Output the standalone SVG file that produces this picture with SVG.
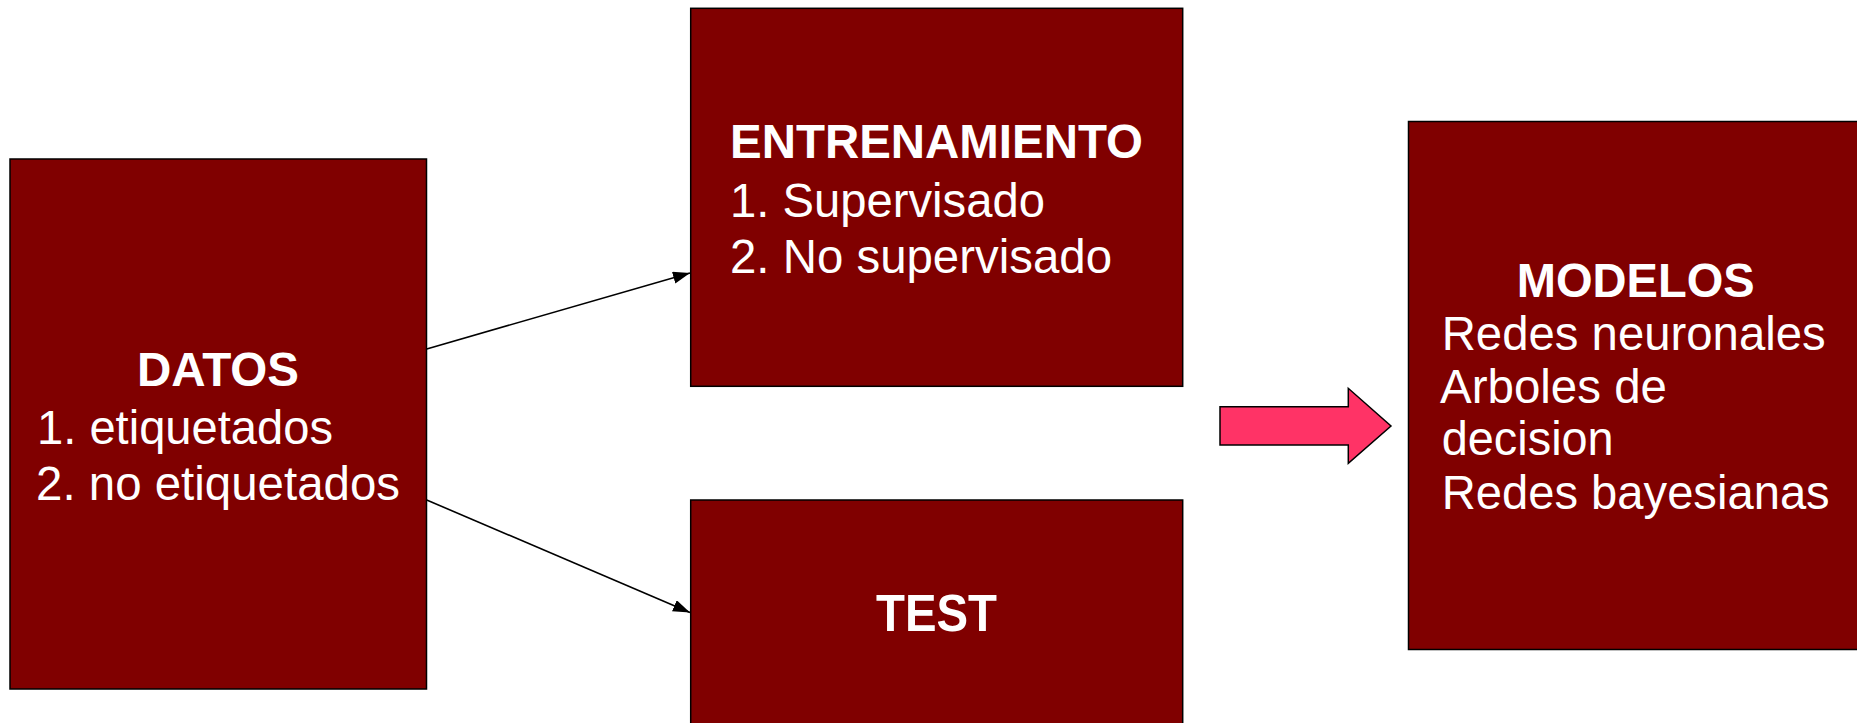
<svg xmlns="http://www.w3.org/2000/svg" width="1857" height="723" viewBox="0 0 1857 723">
<style>
.box{fill:#800000;stroke:#000;stroke-width:1.5}
.t{fill:#fff;font-family:"Liberation Sans",Arial,sans-serif;font-size:48px}
.b{font-weight:bold;font-size:48px}
.conn{stroke:#000;stroke-width:1.6;fill:none}
</style>
<defs>
<marker id="ah" markerUnits="userSpaceOnUse" markerWidth="18" markerHeight="13" refX="17" refY="6" orient="auto">
<path d="M0,0 L17,6 L0,12 z" fill="#000"/>
</marker>
</defs>
<rect width="1857" height="723" fill="#fff"/>
<g id="connectors">
<line class="conn" x1="426.7" y1="349" x2="690" y2="272.9" marker-end="url(#ah)"/>
<line class="conn" x1="426.7" y1="500" x2="690" y2="612.4" marker-end="url(#ah)"/>
<polygon id="flecha" points="1220,406.7 1348.3,406.7 1348.3,388.3 1391,426 1348.3,463.3 1348.3,445 1220,445" fill="#ff3366" stroke="#000" stroke-width="1.5"/>
</g>
<g id="datos">
<rect class="box" x="10" y="159" width="416.5" height="530"/>
<text class="t b" x="137" y="386" textLength="162" lengthAdjust="spacingAndGlyphs">DATOS</text>
<text class="t" x="37" y="443.5" textLength="296" lengthAdjust="spacingAndGlyphs">1. etiquetados</text>
<text class="t" x="36" y="499.5" textLength="364" lengthAdjust="spacingAndGlyphs">2. no etiquetados</text>
</g>
<g id="entrenamiento">
<rect class="box" x="690.7" y="8.3" width="492" height="378"/>
<text class="t b" x="730" y="158" textLength="413" lengthAdjust="spacingAndGlyphs">ENTRENAMIENTO</text>
<text class="t" x="730" y="216.5" textLength="315" lengthAdjust="spacingAndGlyphs">1. Supervisado</text>
<text class="t" x="730" y="273" textLength="382" lengthAdjust="spacingAndGlyphs">2. No supervisado</text>
</g>
<g id="test">
<rect class="box" x="690.7" y="500" width="492" height="260"/>
<text class="t b" x="876" y="631" textLength="121" lengthAdjust="spacingAndGlyphs" style="font-size:52px">TEST</text>
</g>
<g id="modelos">
<rect class="box" x="1408.5" y="121.5" width="460" height="528"/>
<text class="t b" x="1516.7" y="297" textLength="238" lengthAdjust="spacingAndGlyphs">MODELOS</text>
<text class="t" x="1441.7" y="349.5" textLength="384" lengthAdjust="spacingAndGlyphs">Redes neuronales</text>
<text class="t" x="1440" y="402.7" textLength="227" lengthAdjust="spacingAndGlyphs">Arboles de</text>
<text class="t" x="1441.7" y="455" textLength="172" lengthAdjust="spacingAndGlyphs">decision</text>
<text class="t" x="1441.7" y="508.5" textLength="388" lengthAdjust="spacingAndGlyphs">Redes bayesianas</text>
</g>
</svg>
